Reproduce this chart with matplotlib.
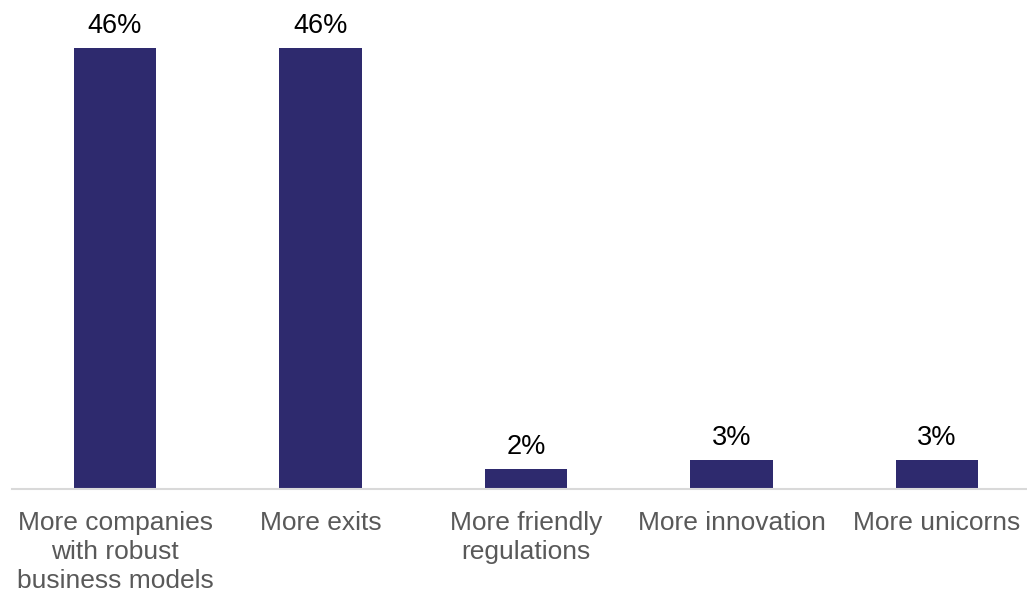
import matplotlib
matplotlib.use("Agg")
import matplotlib.pyplot as plt

categories = ["More companies\nwith robust\nbusiness models", "More exits",
              "More friendly\nregulations", "More innovation", "More unicorns"]
values = [46, 46, 2, 3, 3]
labels = ["46%", "46%", "2%", "3%", "3%"]

plt.rcParams['font.family'] = ['Liberation Sans', 'DejaVu Sans']

fig = plt.figure(figsize=(10.27, 5.94), dpi=100)
# axes box in pixels: x 12..1040, baseline at y=488.6 from top
left = 12.25 / 1027
width = (1039.75 - 12.25) / 1027
bottom = (594 - 488.6) / 594
height = (488.6 - 10) / 594
ax = fig.add_axes([left, bottom, width, height])

x = range(len(categories))
bars = ax.bar(x, values, width=0.4, color='#2E2A6E', zorder=2)
for b, lab in zip(bars, labels):
    ax.annotate(lab, (b.get_x() + b.get_width() / 2, b.get_height()),
                xytext=(0, 6.5), textcoords='offset points',
                ha='center', va='bottom', fontsize=19.5, color='black')

ax.set_xlim(-0.5, 4.5)
ax.set_ylim(0, 50)
ax.set_xticks(list(x))
ax.set_xticklabels(categories, fontsize=19, color='#595959', linespacing=1.28)
ax.tick_params(axis='x', length=0, pad=16)
ax.set_yticks([])
for s in ['top', 'right', 'left']:
    ax.spines[s].set_visible(False)
ax.spines['bottom'].set_color('#D9D9D9')
ax.spines['bottom'].set_linewidth(1.5)

fig.savefig("out.png", dpi=100)
